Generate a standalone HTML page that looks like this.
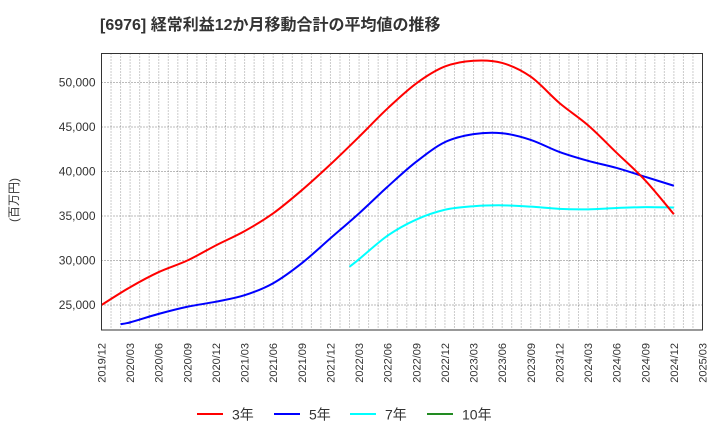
<!DOCTYPE html>
<html><head><meta charset="utf-8"><style>
body{margin:0;background:#fff;}
svg{display:block;font-family:"Liberation Sans","Noto Sans CJK JP",sans-serif;}
</style></head><body>
<svg id="chart" width="720" height="440">
<text x="100" y="30" font-size="16" font-weight="bold" fill="#333">[6976]  経常利益12か月移動合計の平均値の推移</text>
<text x="18" y="200" font-size="12" fill="#333" transform="rotate(-90 18 200)" text-anchor="middle">(百万円)</text>
<g id="grid"></g><g id="series"></g><g id="axes"></g><g id="legend"></g>
</svg>
<script>
const monthsRed=[0,3,6,9,12,15,18,21,24,27,30,33,36,39,42,45,48,51,54,57,60];
const red=[25000,27000,28700,30000,31700,33300,35300,37900,40800,43900,47100,49900,51800,52450,52200,50650,47700,45200,42100,39000,35200];
const monthsBlue=[2,3,6,9,12,15,18,21,24,27,30,33,36,39,42,45,48,51,54,57,60];
const blue=[22850,23050,24000,24800,25370,26100,27450,29700,32500,35300,38300,41100,43300,44200,44300,43550,42200,41200,40400,39400,38400];
const monthsCyan=[26,27,30,33,36,39,42,45,48,51,54,57,60];
const cyan=[29300,30150,32800,34600,35700,36100,36200,36050,35800,35750,35900,36000,35950];
const yTicks=[25000,30000,35000,40000,45000,50000];
const xLabels=["2019/12","2020/03","2020/06","2020/09","2020/12","2021/03","2021/06","2021/09","2021/12","2022/03","2022/06","2022/09","2022/12","2023/03","2023/06","2023/09","2023/12","2024/03","2024/06","2024/09","2024/12","2025/03"];
const L=101.5,R=702.5,T=53.5,B=330;
const xs=m=>L+m*(R-L)/63;
const ys=v=>305-(v-25000)*44.5/5000;
const NS="http://www.w3.org/2000/svg";
function mk(t,a,p){const e=document.createElementNS(NS,t);for(const k in a)e.setAttribute(k,a[k]);p.appendChild(e);return e;}
const grid=document.getElementById('grid'),axes=document.getElementById('axes'),ser=document.getElementById('series'),leg=document.getElementById('legend');
for(let m=1;m<63;m++){const l=mk('line',{x1:xs(m),x2:xs(m),y1:T,y2:B,stroke:'#999','stroke-dasharray':'1,2','stroke-width':1},grid);

}
yTicks.forEach(v=>{const l=mk('line',{x1:L,x2:R,y1:ys(v),y2:ys(v),stroke:'#777','stroke-dasharray':'1,2','stroke-width':1},grid);


const t=mk('text',{x:L-6,y:ys(v)+4,'text-anchor':'end','font-size':12,fill:'#333'},axes);t.textContent=v.toLocaleString('en-US');

});
xLabels.forEach((s,i)=>{const x=xs(i*3);const t=mk('text',{x:x+4,y:343,'text-anchor':'end','font-size':11,fill:'#333',transform:`rotate(-90 ${x+4} 343)`},axes);t.textContent=s;

});
const fr=mk('rect',{x:L,y:T,width:R-L,height:B-T,fill:'none',stroke:'#333','stroke-width':1},axes);


function path(ms,vs,col,name){const p=ms.map((m,i)=>[xs(m),ys(vs[i])]);let d=`M${p[0][0]},${p[0][1]}`;
for(let i=0;i<p.length-1;i++){const p0=p[Math.max(0,i-1)],p1=p[i],p2=p[i+1],p3=p[Math.min(p.length-1,i+2)];
d+=` C${p1[0]+(p2[0]-p0[0])/6},${p1[1]+(p2[1]-p0[1])/6} ${p2[0]-(p3[0]-p1[0])/6},${p2[1]-(p3[1]-p1[1])/6} ${p2[0]},${p2[1]}`;}
const e=mk('path',{d:d,fill:'none',stroke:col,'stroke-width':2},ser);

}
path(monthsCyan,cyan,'#00ffff','line-7yr');
path(monthsBlue,blue,'#0000ff','line-5yr');
path(monthsRed,red,'#ff0000','line-3yr');
[['3年','#ff0000',197],['5年','#0000ff',274],['7年','#00ffff',350],['10年','#228b22',427]].forEach(([s,c,x])=>{
const g=mk('g',{},leg);


mk('line',{x1:x,x2:x+26,y1:414,y2:414,stroke:c,'stroke-width':2},g);
const t=mk('text',{x:x+35,y:419.5,'font-size':14,fill:'#333'},g);t.textContent=s;});
</script>
</body></html>
